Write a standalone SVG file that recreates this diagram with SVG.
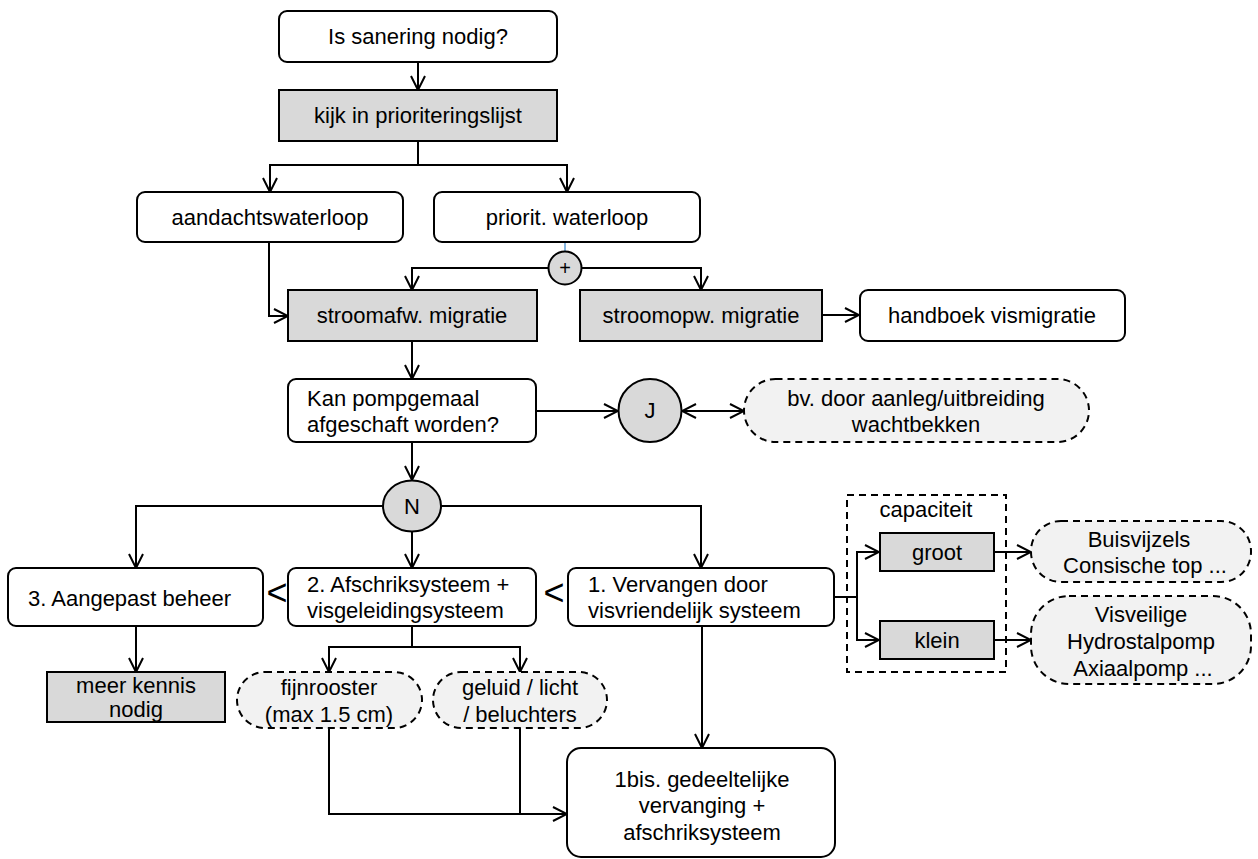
<svg xmlns="http://www.w3.org/2000/svg" width="1258" height="859" viewBox="0 0 1258 859">
<defs>
<style>
text{font-family:"Liberation Sans",Arial,sans-serif;font-size:22px;fill:#000}
.c{text-anchor:middle}
.box{fill:#fff;stroke:#000;stroke-width:2}
.gray{fill:#d9d9d9;stroke:#000;stroke-width:2}
.dash{fill:#f2f2f2;stroke:#000;stroke-width:2;stroke-dasharray:7 5}
.dr{fill:none;stroke:#000;stroke-width:2;stroke-dasharray:7 5}
.ln{fill:none;stroke:#000;stroke-width:2}
.lt{font-size:36px}
</style>
<marker id="arr" viewBox="0 0 16 16" refX="15" refY="8" markerWidth="16" markerHeight="16" markerUnits="userSpaceOnUse" orient="auto-start-reverse">
<path d="M1,1 L15,8 L1,15" fill="none" stroke="#000" stroke-width="2"/>
</marker>
</defs>
<rect width="1258" height="859" fill="#fff"/>

<g id="connectors">
<path class="ln" d="M418,62 V90" marker-end="url(#arr)"/>
<path class="ln" d="M418,141 V165"/>
<path class="ln" d="M418,165 H270 V192" marker-end="url(#arr)"/>
<path class="ln" d="M418,165 H567 V192" marker-end="url(#arr)"/>
<path class="ln" d="M269,242 V316 H288" marker-end="url(#arr)"/>
<path d="M565,242 V252" stroke="#5b9bd5" stroke-width="1.5" fill="none"/>
<path class="ln" d="M548.5,268 H412 V290" marker-end="url(#arr)"/>
<path class="ln" d="M581.5,268 H701 V290" marker-end="url(#arr)"/>
<path class="ln" d="M822,315 H859" marker-end="url(#arr)"/>
<path class="ln" d="M412,341 V379" marker-end="url(#arr)"/>
<path class="ln" d="M536,411 H618" marker-end="url(#arr)"/>
<path class="ln" d="M682,411 H744" marker-start="url(#arr)" marker-end="url(#arr)"/>
<path class="ln" d="M412,442 V480" marker-end="url(#arr)"/>
<path class="ln" d="M383,506 H136 V568" marker-end="url(#arr)"/>
<path class="ln" d="M412,532 V568" marker-end="url(#arr)"/>
<path class="ln" d="M441,506 H701 V568" marker-end="url(#arr)"/>
<path class="ln" d="M136,626 V672" marker-end="url(#arr)"/>
<path class="ln" d="M412,626 V647"/>
<path class="ln" d="M412,647 H329 V672" marker-end="url(#arr)"/>
<path class="ln" d="M412,647 H520 V672" marker-end="url(#arr)"/>
<path class="ln" d="M834,597 H857"/>
<path class="ln" d="M857,597 V552 H879" marker-end="url(#arr)"/>
<path class="ln" d="M857,597 V640 H879" marker-end="url(#arr)"/>
<path class="ln" d="M994,552 H1031" marker-end="url(#arr)"/>
<path class="ln" d="M994,640 H1031" marker-end="url(#arr)"/>
<path class="ln" d="M702,626 V748" marker-end="url(#arr)"/>
<path class="ln" d="M329,728 V814 H567" marker-end="url(#arr)"/>
<path class="ln" d="M520,728 V814"/>
</g>

<g id="n-sanering"><rect class="box" x="279" y="11" width="278" height="51" rx="8"/><text class="c" x="418" y="44">Is sanering nodig?</text></g>
<g id="n-kijk"><rect class="gray" x="279" y="90" width="278" height="51"/><text class="c" x="418" y="123">kijk in prioriteringslijst</text></g>
<g id="n-aandacht"><rect class="box" x="137" y="192" width="266" height="50" rx="8"/><text class="c" x="270" y="225">aandachtswaterloop</text></g>
<g id="n-priorit"><rect class="box" x="434" y="192" width="266" height="50" rx="8"/><text class="c" x="567" y="225">priorit. waterloop</text></g>
<g id="n-plus"><circle class="gray" cx="565" cy="268" r="16.5"/><text class="c" x="565" y="275" style="font-size:20px">+</text></g>
<g id="n-stroomafw"><rect class="gray" x="288" y="290" width="249" height="51"/><text class="c" x="412" y="323">stroomafw. migratie</text></g>
<g id="n-stroomopw"><rect class="gray" x="580" y="290" width="242" height="51"/><text class="c" x="701" y="323">stroomopw. migratie</text></g>
<g id="n-handboek"><rect class="box" x="860" y="290" width="265" height="51" rx="8"/><text class="c" x="992" y="323">handboek vismigratie</text></g>
<g id="n-kan"><rect class="box" x="288" y="379" width="248" height="63" rx="8"/><text x="307" y="406">Kan pompgemaal</text><text x="307" y="432">afgeschaft worden?</text></g>
<g id="n-j"><circle class="gray" cx="650" cy="410.5" r="31.5"/><text class="c" x="650" y="418">J</text></g>
<g id="n-bv"><rect class="dash" x="744" y="379" width="345" height="63" rx="31.5"/><text class="c" x="916" y="406">bv. door aanleg/uitbreiding</text><text class="c" x="916" y="432">wachtbekken</text></g>
<g id="n-n"><ellipse class="gray" cx="412" cy="506" rx="29" ry="25.5"/><text class="c" x="412" y="514">N</text></g>
<g id="n-3"><rect class="box" x="8" y="568" width="255" height="58" rx="8"/><text x="28" y="606">3. Aangepast beheer</text></g>
<g id="lt1"><text class="c lt" x="277" y="605">&lt;</text></g>
<g id="n-2"><rect class="box" x="288" y="568" width="248" height="58" rx="8"/><text x="307" y="592">2. Afschriksysteem +</text><text x="307" y="618">visgeleidingsysteem</text></g>
<g id="lt2"><text class="c lt" x="554" y="605">&lt;</text></g>
<g id="n-1"><rect class="box" x="568" y="568" width="266" height="58" rx="8"/><text x="588" y="592">1. Vervangen door</text><text x="588" y="618">visvriendelijk systeem</text></g>
<g id="n-capaciteit"><rect class="dr" x="847" y="495" width="159" height="177"/><text class="c" x="926" y="517">capaciteit</text></g>
<g id="n-groot"><rect class="gray" x="880" y="533" width="114" height="38"/><text class="c" x="937" y="560">groot</text></g>
<g id="n-klein"><rect class="gray" x="880" y="621" width="114" height="38"/><text class="c" x="937" y="648">klein</text></g>
<g id="n-buis"><rect class="dash" x="1031" y="521" width="220" height="61" rx="30"/><text class="c" x="1139" y="547">Buisvijzels</text><text class="c" x="1145" y="573">Consische top ...</text></g>
<g id="n-visveilig"><rect class="dash" x="1031" y="596" width="220" height="88" rx="38"/><text class="c" x="1141" y="622">Visveilige</text><text class="c" x="1141" y="649">Hydrostalpomp</text><text class="c" x="1143" y="676">Axiaalpomp ...</text></g>
<g id="n-meer"><rect class="gray" x="47" y="672" width="178" height="50"/><text class="c" x="136" y="693">meer kennis</text><text class="c" x="136" y="717">nodig</text></g>
<g id="n-fijn"><rect class="dash" x="237" y="672" width="185" height="56" rx="28"/><text class="c" x="329" y="695">fijnrooster</text><text class="c" x="329" y="722">(max 1.5 cm)</text></g>
<g id="n-geluid"><rect class="dash" x="433" y="672" width="174" height="56" rx="28"/><text class="c" x="520" y="695">geluid / licht</text><text class="c" x="520" y="722">/ beluchters</text></g>
<g id="n-1bis"><rect class="box" x="567" y="748" width="268" height="109" rx="14"/><text class="c" x="702" y="787">1bis. gedeeltelijke</text><text class="c" x="702" y="813">vervanging +</text><text class="c" x="702" y="840">afschriksysteem</text></g>
</svg>
